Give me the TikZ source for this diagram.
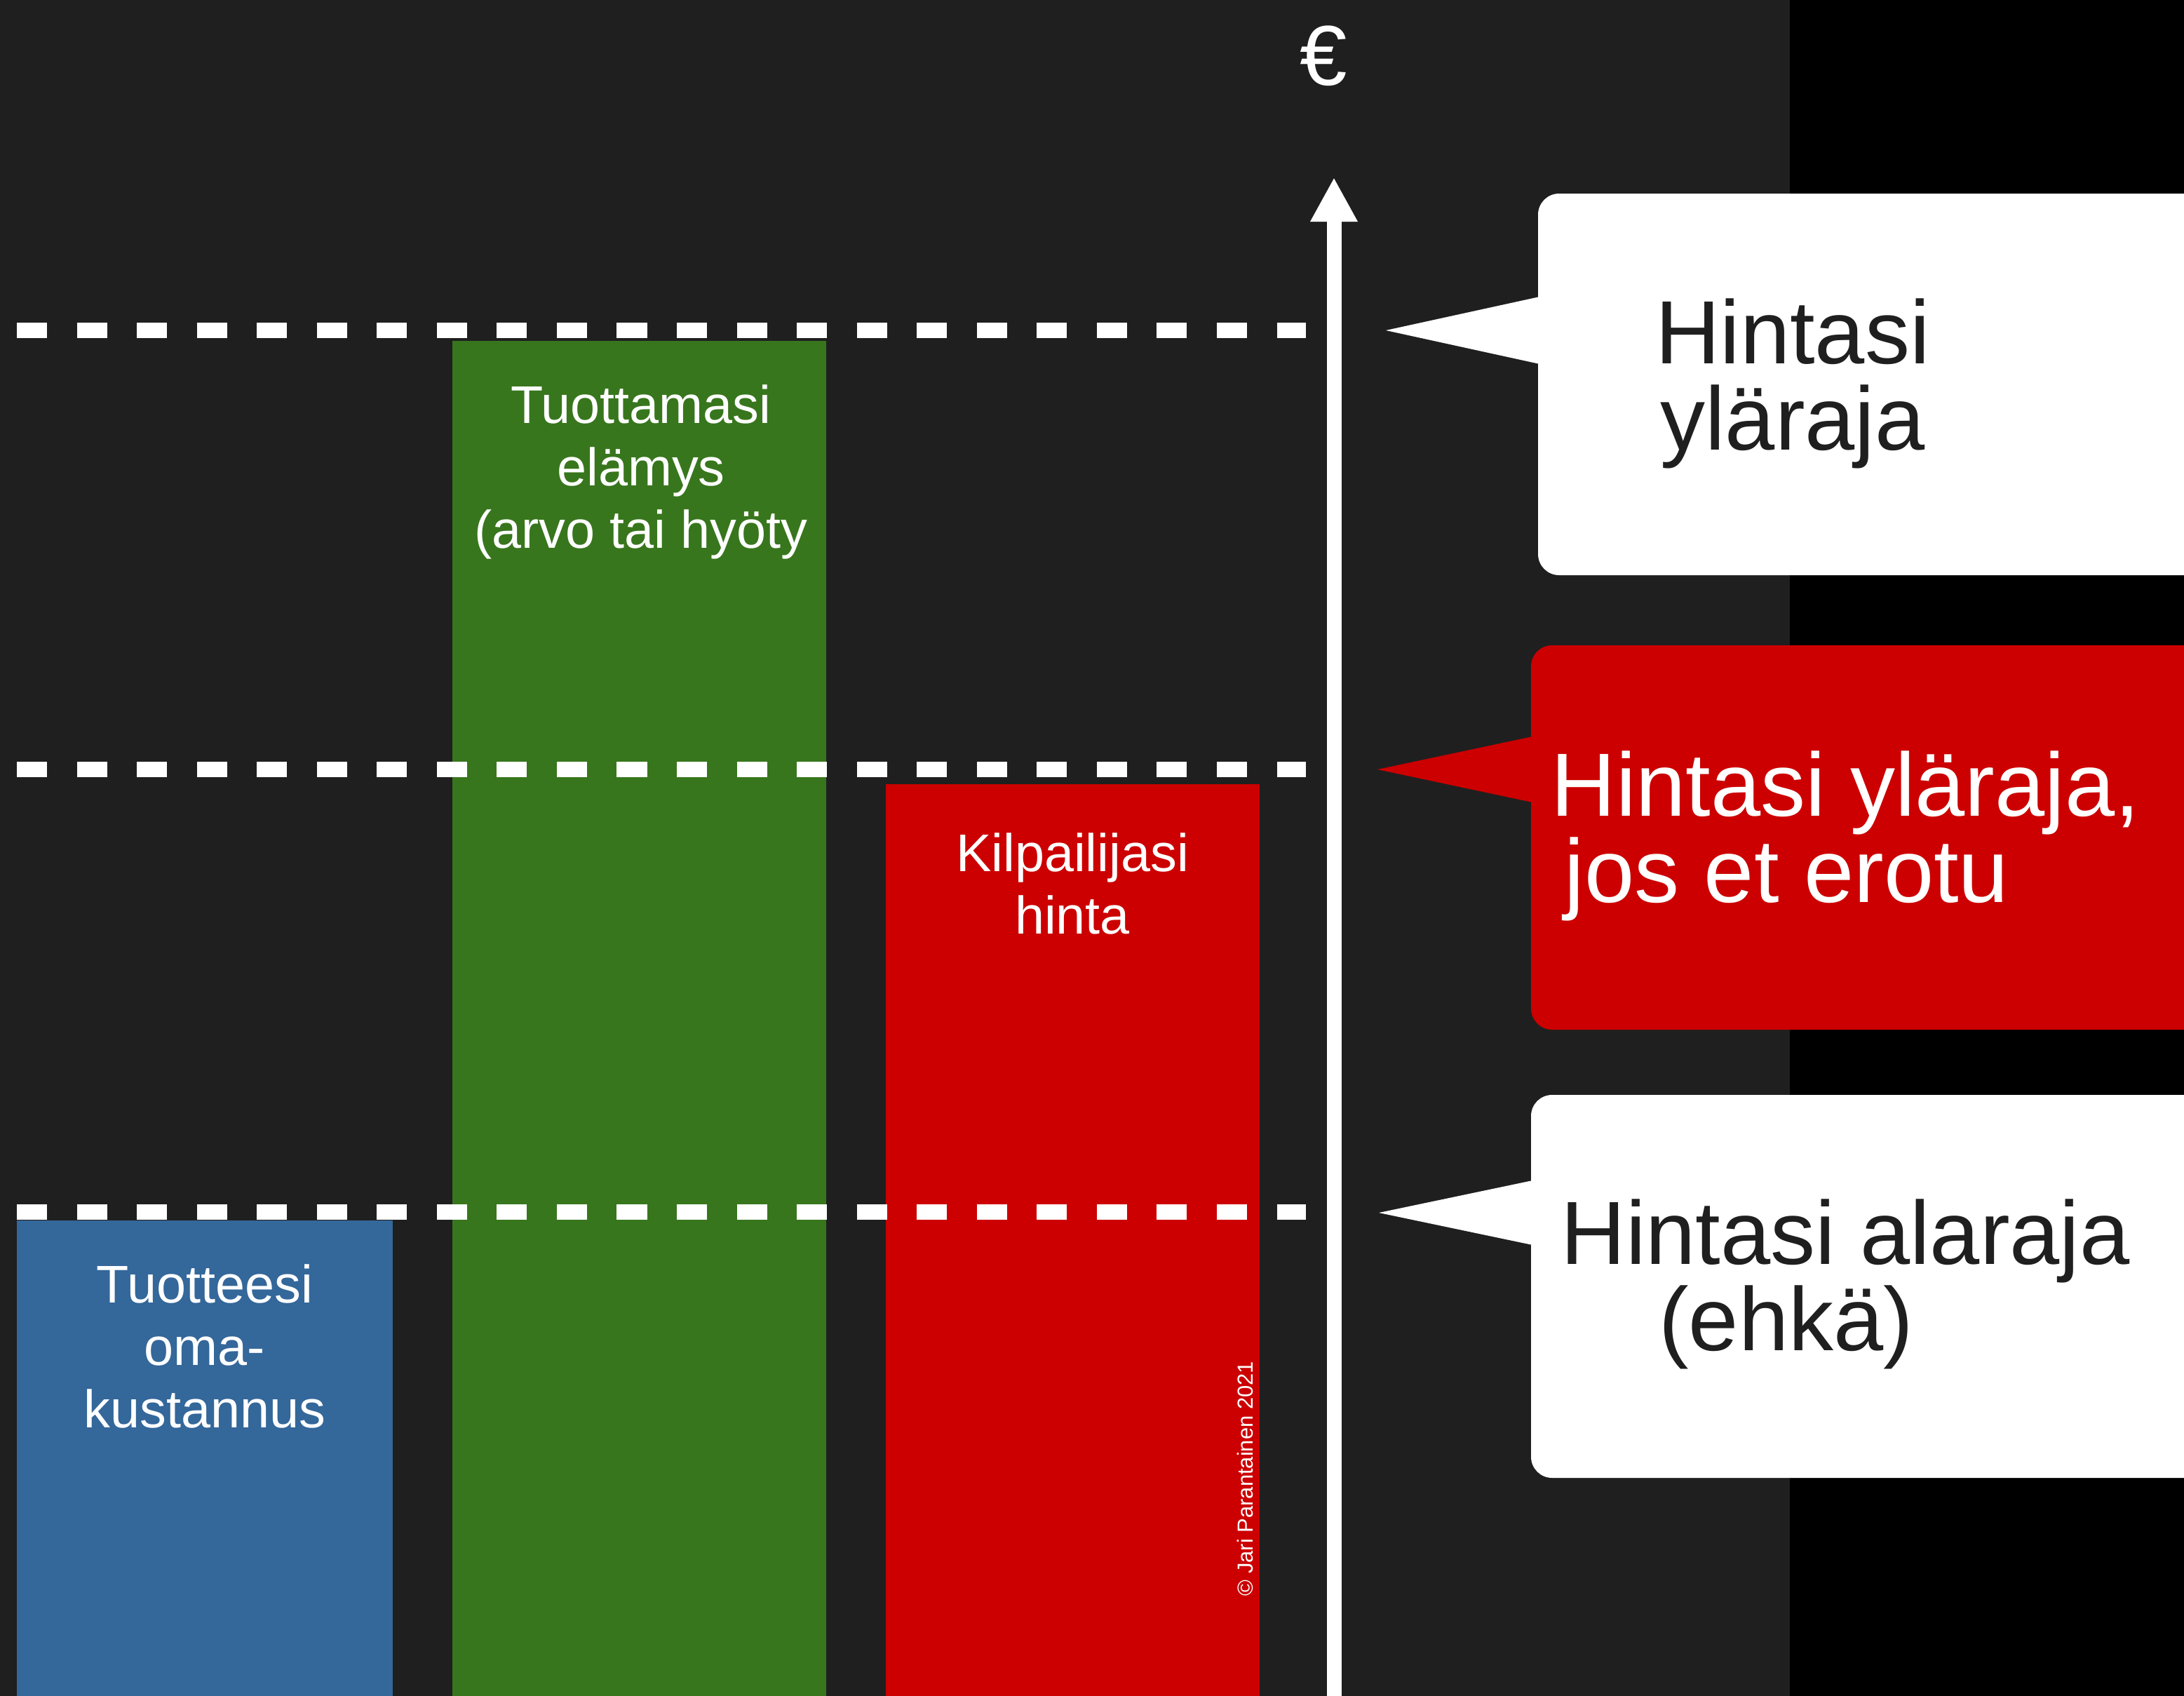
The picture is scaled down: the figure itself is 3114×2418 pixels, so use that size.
\documentclass[tikz,border=0pt]{standalone}
\usepackage{fontspec}
\setmainfont{Liberation Sans}
\usetikzlibrary{arrows.meta, positioning}
\definecolor{bgdark}{HTML}{1F1F1F}
\definecolor{ink}{HTML}{1F1F1F}
\definecolor{costblue}{HTML}{34679A}
\definecolor{valuegreen}{HTML}{38761D}
\definecolor{rivalred}{HTML}{CC0000}

\begin{document}
\begin{tikzpicture}[x=0.01cm, y=-0.01cm,
  limit/.style={white, line width=0.22cm, dash pattern=on 0.43cm off 0.425cm},
  bartext/.style={white, align=center, anchor=north, inner sep=0pt,
    font=\fontsize{21.5}{25.3}\selectfont},
  calltext/.style={anchor=north, inner sep=0pt,
    font=\fontsize{36.4}{35}\selectfont}]
	\useasboundingbox (0,0) rectangle (3114,2418);
	\coordinate (tiphigh) at (1976,471);
	\coordinate (tipmid) at (1964,1097);
	\coordinate (tiplow) at (1966,1729);
	\coordinate (axisbot) at (1902,2430);
	\coordinate (axistop) at (1902,253);

	% background
	\fill[bgdark] (0,0) rectangle (2552,2418);
	\fill[black] (2552,0) rectangle (3114,2418);

	% bars
	\fill[costblue] (24,1740) rectangle (560,2418);
	\fill[valuegreen] (645,486) rectangle (1178,2418);
	\fill[rivalred] (1263,1118) rectangle (1796,2418);
	\node[bartext] (cost) at (292,1802) {Tuotteesi\\oma-\\kustannus};
	\node[bartext] (value) at (914,548) {Tuottamasi\\elämys\\(arvo tai hyöty};
	\node[bartext] (rival) at (1529,1187) {Kilpailijasi\\hinta};
	\node[white, rotate=90, inner sep=0pt, font=\fontsize{8.8}{9}\selectfont]
	  (copy) at (1775,2108) {© Jari Parantainen 2021};

	% price limits
	\draw[limit] (24,471) -- (1862,471);
	\draw[limit] (24,1097) -- (1862,1097);
	\draw[limit] (24,1728) -- (1862,1728);

	% euro axis
	\draw[white, line width=0.21cm, -{Triangle[length=0.63cm, width=0.63cm]}] (axisbot) -- (axistop);
	\node[white, inner sep=0pt, font=\fontsize{34.5}{35}\selectfont] (euro) at (1887,80) {€};

	% callout: upper limit
	\fill[white, rounded corners=0.3cm] (2193,276) rectangle (3250,820);
	\fill[white] (2200,422) -- (tiphigh) -- (2200,520) -- cycle;
	\node[calltext, ink, align=center] (high) at (2556,425) {Hintasi\\yläraja};

	% callout: upper limit without differentiation
	\fill[rivalred, rounded corners=0.3cm] (2183,920) rectangle (3250,1468);
	\fill[rivalred] (2190,1049) -- (tipmid) -- (2190,1145) -- cycle;
	\node[calltext, white, align=left, anchor=north west] (mid) at (2211,1070) {Hintasi yläraja,\\\hspace*{0.15em}jos et erotu};

	% callout: lower limit
	\fill[white, rounded corners=0.3cm] (2183,1561) rectangle (3250,2107);
	\fill[white] (2190,1682) -- (tiplow) -- (2190,1776) -- cycle;
	\node[calltext, ink, align=left, anchor=north west] (low) at (2225,1709) {Hintasi alaraja\\\hspace*{1.09em}(ehkä)};
\end{tikzpicture}
\end{document}
